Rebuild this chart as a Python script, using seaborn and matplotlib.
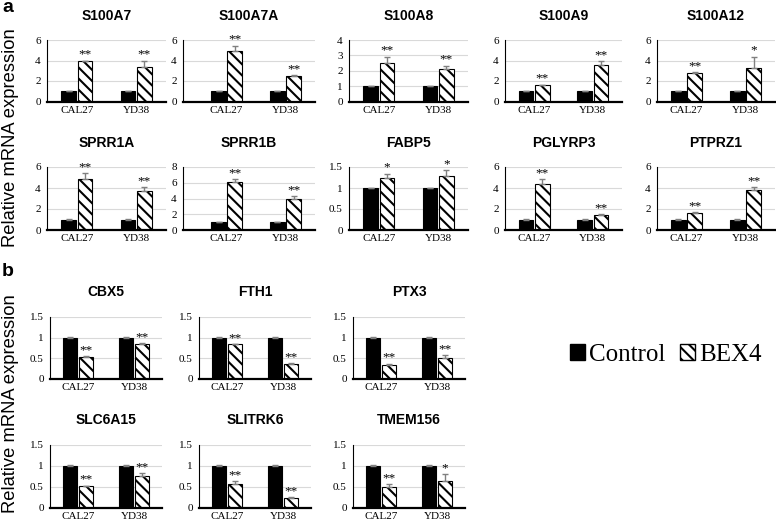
import pandas as pd
import matplotlib
matplotlib.use("Agg")
import matplotlib.pyplot as plt
import seaborn as sns
from matplotlib.patches import Patch
from matplotlib.ticker import MultipleLocator, FuncFormatter

# ---------------------------
# data
# ---------------------------
cells = ["CAL27", "YD38"]
groups = ["Control", "BEX4"]
ctrl_vals = [1.0, 1.0]
ctrl_err = [0.01, 0.01]

genes_a = ["S100A7", "S100A7A", "S100A8", "S100A9", "S100A12",
           "SPRR1A", "SPRR1B", "FABP5", "PGLYRP3", "PTPRZ1"]
bex4_a = [[3.94, 3.39], [4.95, 2.48], [2.52, 2.14], [1.57, 3.59], [2.79, 3.27],
          [4.86, 3.68], [6.11, 3.93], [1.24, 1.28], [4.38, 1.46], [1.62, 3.84]]
bex4_err_a = [[0.06, 0.58], [0.5, 0.08], [0.4, 0.2], [0.06, 0.32], [0.1, 1.12],
              [0.57, 0.38], [0.38, 0.34], [0.1, 0.14], [0.48, 0.08], [0.06, 0.26]]
stars_a = [["**", "**"], ["**", "**"], ["**", "**"], ["**", "**"], ["**", "*"],
           ["**", "**"], ["**", "**"], ["*", "*"], ["**", "**"], ["**", "**"]]
ymax_a = [6, 6, 4, 6, 6, 6, 8, 1.5, 6, 6]
ystep_a = [2, 2, 1, 2, 2, 2, 2, 0.5, 2, 2]

genes_b = ["CBX5", "FTH1", "PTX3", "SLC6A15", "SLITRK6", "TMEM156"]
bex4_b = [[0.54, 0.84], [0.84, 0.36], [0.34, 0.5], [0.52, 0.77], [0.57, 0.24], [0.5, 0.65]]
bex4_err_b = [[0.01, 0.025], [0.01, 0.025], [0.03, 0.08], [0.01, 0.06], [0.07, 0.02], [0.06, 0.15]]
stars_b = [["**", "**"], ["**", "**"], ["**", "**"], ["**", "**"], ["**", "**"], ["**", "*"]]

# ---------------------------
# style
# ---------------------------
sns.set_theme(style="white")
plt.rcParams["font.family"] = ["Liberation Serif", "DejaVu Serif"]
plt.rcParams["text.color"] = "black"
plt.rcParams["hatch.linewidth"] = 1.5
palette = {"Control": "black", "BEX4": "white"}
HATCH = "\\\\\\"

W, H = 776, 524
fig = plt.figure(figsize=(W / 100, H / 100), dpi=100)


def px_rect(x0, x1, ytop, ybot):
    return [x0 / W, 1 - ybot / H, (x1 - x0) / W, (ybot - ytop) / H]


def draw_panel(rect, gene, bex, err, stars, ymax, step, title_y, xleft=0.0):
    ax = fig.add_axes(px_rect(*rect))
    df = pd.DataFrame({
        "cell": cells * 2,
        "group": ["Control"] * 2 + ["BEX4"] * 2,
        "value": ctrl_vals + list(bex),
        "err": ctrl_err + list(err),
        "star": ["", ""] + list(stars),
    })
    sns.barplot(data=df, x="cell", y="value", hue="group", order=cells,
                hue_order=groups, palette=palette, width=0.55, gap=0.1,
                edgecolor="black", linewidth=0.8, errorbar=None,
                legend=False, ax=ax, zorder=2)

    for grp, cont in zip(groups, ax.containers):
        for bar in cont:
            xc = bar.get_x() + bar.get_width() / 2
            h = bar.get_height()
            row = df[(df.group == grp) & (df.cell == cells[int(round(xc))])].iloc[0]
            if grp == "BEX4":
                bar.set_hatch(HATCH)
            ax.errorbar(xc, h, yerr=[[0], [row.err]], fmt="none", ecolor="#808080",
                        elinewidth=1, capsize=2.5, capthick=1, zorder=3)
            if row.star:
                ax.annotate(row.star, (xc, h + row.err), xytext=(0, 0),
                            textcoords="offset points", ha="center", va="bottom",
                            fontsize=9.5, color="black")

    ax.set_ylim(0, ymax)
    ax.set_xlim(-0.5 - xleft, 1.5)
    ax.yaxis.set_major_locator(MultipleLocator(step))
    ax.yaxis.set_major_formatter(FuncFormatter(lambda v, p: f"{v:g}"))
    ax.grid(axis="y", color="#d9d9d9", linewidth=0.8)
    ax.set_axisbelow(True)
    for s in ["top", "right"]:
        ax.spines[s].set_visible(False)
    ax.spines["left"].set_color("black")
    ax.spines["left"].set_linewidth(0.8)
    ax.spines["bottom"].set_color("black")
    ax.spines["bottom"].set_linewidth(1.6)
    ax.tick_params(axis="both", length=0, labelsize=8, colors="black")
    ax.tick_params(axis="y", pad=4.5)
    ax.tick_params(axis="x", pad=3)
    ax.set_xlabel("")
    ax.set_ylabel("")
    cx = (rect[0] + rect[1]) / 2
    fig.text(cx / W, 1 - title_y / H, gene, ha="center", va="center",
             fontsize=10, fontweight="bold", family="Liberation Sans")
    return ax


# panel a layout (pixels)
cols_a = [(47, 166, 0.0), (183, 315, 0.24), (349, 468, 0.0), (505, 622, 0.0), (657, 775, 0.0)]
rows_a = [(40, 101.5, 16), (167, 230, 143)]
for i, gene in enumerate(genes_a):
    r, c = divmod(i, 5)
    x0, x1, xl = cols_a[c]
    yt, yb, ty = rows_a[r]
    draw_panel((x0, x1, yt, yb), gene, bex4_a[i], bex4_err_a[i], stars_a[i],
               ymax_a[i], ystep_a[i], ty, xl)

# panel b layout
cols_b = [(50, 162), (199, 311), (353, 465)]
rows_b = [(317, 379, 292), (445, 507.7, 420)]
for i, gene in enumerate(genes_b):
    r, c = divmod(i, 3)
    x0, x1 = cols_b[c]
    yt, yb, ty = rows_b[r]
    draw_panel((x0, x1, yt, yb), gene, bex4_b[i], bex4_err_b[i], stars_b[i],
               1.5, 0.5, ty)

# axis labels & panel letters
for yc in [138, 404]:
    fig.text(11 / W, 1 - yc / H, "Relative mRNA expression", rotation=90,
             ha="center", va="center", fontsize=13.2, family="Liberation Sans")
fig.text(2 / W, 1 - 8 / H, "a", ha="left", va="center", fontsize=14,
         fontweight="bold", family="Liberation Sans")
fig.text(2 / W, 1 - 271 / H, "b", ha="left", va="center", fontsize=14,
         fontweight="bold", family="Liberation Sans")

# legend
handles = [Patch(facecolor="black", edgecolor="black", label="Control"),
           Patch(facecolor="white", edgecolor="black", hatch=HATCH, label="BEX4")]
fig.legend(handles=handles, loc="center", bbox_to_anchor=(666 / W, 1 - 355 / H),
           ncol=2, frameon=False, fontsize=18, handlelength=0.6, handleheight=0.6,
           handletextpad=0.15, columnspacing=0.6)

fig.savefig("out.png", dpi=100)
